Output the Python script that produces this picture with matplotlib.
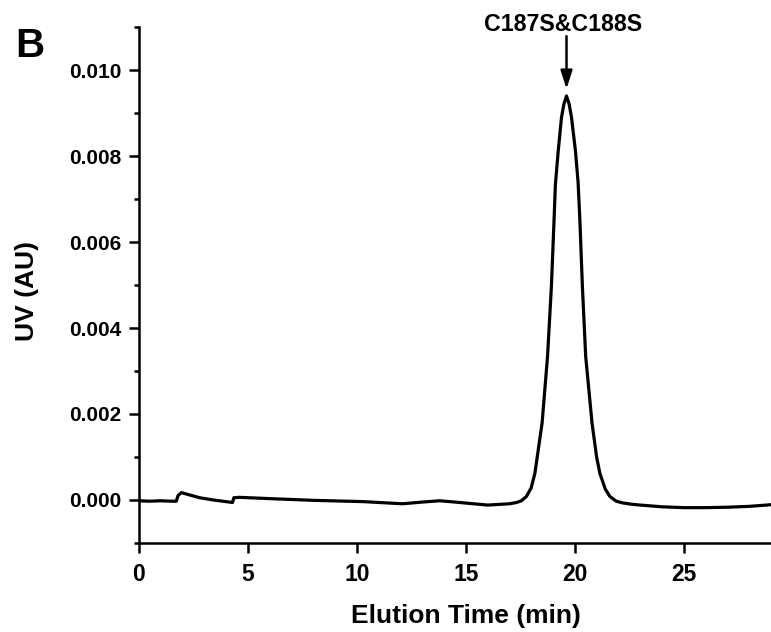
import matplotlib
matplotlib.use("Agg")
import matplotlib.pyplot as plt
from matplotlib.ticker import MultipleLocator, FormatStrFormatter

plt.rcParams['font.family'] = ['Liberation Sans', 'DejaVu Sans']
plt.rcParams['font.weight'] = 'bold'

## chromatogram trace (min, AU)
time = [0.0, 0.5, 1.0, 1.5, 1.72, 1.8, 1.95, 2.3, 2.8, 3.4, 4.0, 4.3,
        4.36, 4.6, 6.0, 8.0, 10.3, 12.1, 13.0, 13.8, 14.5, 16.0, 17.0,
        17.33, 17.55, 17.78, 18.0, 18.17, 18.5, 18.75, 18.93, 19.04, 19.11,
        19.24, 19.39, 19.50, 19.62, 19.74, 19.85, 20.03, 20.15, 20.23,
        20.35, 20.50, 20.79, 21.0, 21.15, 21.4, 21.61, 21.9, 22.2,
        22.6, 23.0, 24.0, 25.0, 26.0, 27.0, 28.0, 28.8, 29.2]
uv = [-0.00002, -0.00003, -0.00002, -0.00003, -0.00003, 0.00010, 0.00017,
      0.00012, 0.00005, 0.00000, -0.00004, -0.00006,
      0.00005, 0.00006, 0.00003, -0.00001, -0.00004, -0.00009, -0.00005,
      -0.00002, -0.00005, -0.00012, -0.00009,
      -0.00006, -0.00002, 0.00008, 0.00028, 0.00062, 0.00179, 0.00334,
      0.00500, 0.00640, 0.00734,
      0.00812, 0.00890, 0.00921, 0.00940, 0.00921, 0.00890, 0.00812,
      0.00740, 0.00655,
      0.00495, 0.00334, 0.00179, 0.00100, 0.00062, 0.00025, 0.00008,
      -0.00003, -0.00007,
      -0.00010, -0.00012, -0.00016, -0.00018, -0.00018, -0.00017,
      -0.00015, -0.00012, -0.00010]

peak_label = "C187S&C188S"
peak_time = 19.62
arrow_tip = 0.00956
arrow_tail = 0.01079

fig = plt.figure(figsize=(7.71, 6.32), dpi=100)
ax = fig.add_axes([0.180, 0.141, 0.820, 0.816])

ax.plot(time, uv, color='black', lw=2.3)

ax.set_xlim(0, 29.0)
ax.set_ylim(-0.001, 0.011)
ax.xaxis.set_major_locator(MultipleLocator(5))
ax.yaxis.set_major_locator(MultipleLocator(0.002))
ax.yaxis.set_minor_locator(MultipleLocator(0.001))
ax.yaxis.set_major_formatter(FormatStrFormatter('%.3f'))

for s in ['top', 'right']:
    ax.spines[s].set_visible(False)
for s in ['left', 'bottom']:
    ax.spines[s].set_linewidth(1.8)

ax.tick_params(axis='both', which='major', length=7.2, width=1.8)
ax.tick_params(axis='y', which='minor', length=3.6, width=1.8)
ax.tick_params(axis='x', labelsize=16.5, pad=7)
ax.tick_params(axis='y', labelsize=15, pad=5.5)
for lab in ax.get_xticklabels() + ax.get_yticklabels():
    lab.set_fontweight('bold')

ax.set_xlabel("Elution Time (min)", fontsize=19, fontweight='bold')
ax.set_ylabel("UV (AU)", fontsize=19, fontweight='bold')
ax.xaxis.set_label_coords(0.517, -0.118)
ax.yaxis.set_label_coords(-0.158, 0.489)

## arrow + label over the peak
ax.annotate('', xy=(peak_time, arrow_tip), xytext=(peak_time, arrow_tail),
            annotation_clip=False,
            arrowprops=dict(arrowstyle='-|>,head_length=1.1,head_width=0.35',
                            mutation_scale=10, color='black', lw=1.8,
                            shrinkA=0, shrinkB=0))
ax.text(19.45, 0.01091, peak_label, ha='center', va='baseline',
        fontsize=16.7, fontweight='bold', clip_on=False)

fig.text(15 / 771, 1 - 57 / 632, "B", fontsize=29, fontweight='bold',
         va='baseline', ha='left')

fig.savefig("out.png", dpi=100)
